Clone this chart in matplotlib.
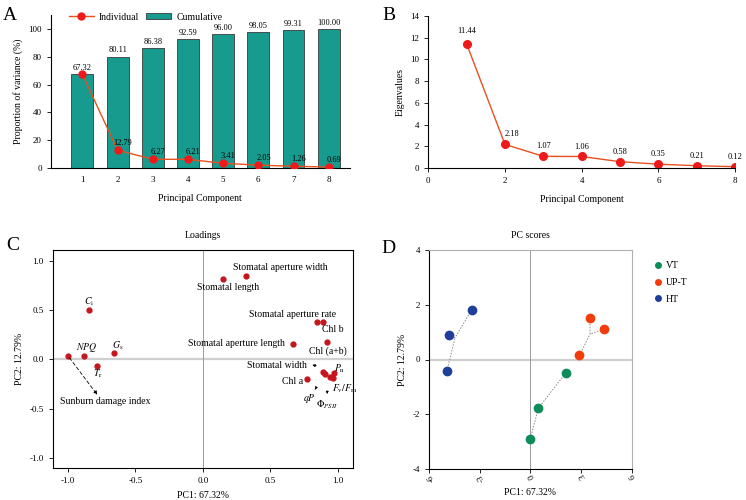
import matplotlib
matplotlib.use("Agg")
import matplotlib.pyplot as plt
from matplotlib.lines import Line2D
from matplotlib.patches import Patch

plt.rcParams['font.family'] = ['Liberation Serif', 'DejaVu Serif']
plt.rcParams['mathtext.fontset'] = 'stix'
plt.rcParams['axes.unicode_minus'] = False

# data
pcs = [1, 2, 3, 4, 5, 6, 7, 8]
individual = [67.32, 12.79, 6.27, 6.21, 3.41, 2.05, 1.26, 0.69]
cumulative = [67.32, 80.11, 86.38, 92.59, 96.00, 98.05, 99.31, 100.00]
eigenvalues = [11.44, 2.18, 1.07, 1.06, 0.58, 0.35, 0.21, 0.12]

# loadings (PC1, PC2) and where the label sits
load_names = ["Stomatal aperture width", "Stomatal length", r"$C_{\rm i}$", r"$NPQ$",
              "Sunburn damage index", r"$G_{\rm s}$", r"$T_{\rm r}$",
              "Stomatal aperture rate", "Chl b", "Chl (a+b)", "Stomatal aperture length",
              "Chl a", "Stomatal width", r"$qP$", r"$P_{\rm n}$", r"$\Phi_{PSII}$",
              r"$F_{\rm v}/F_{\rm m}$"]
load_pc1 = [0.316, 0.148, -0.84, -0.877, -1.0, -0.66, -0.783,
            0.844, 0.889, 0.921, 0.669, 0.770, 0.891, 0.906, 0.968, 0.941, 0.961]
load_pc2 = [0.848, 0.821, 0.50, 0.04, 0.04, 0.064, -0.064,
            0.384, 0.381, 0.181, 0.160, -0.198, -0.127, -0.151, -0.141, -0.174, -0.191]
lab_x = [0.57, 0.185, -0.84, -0.86, -0.72, -0.63, -0.78,
         0.667, 0.96, 0.926, 0.25, 0.66, 0.55, 0.79, 1.01, 0.92, 1.05]
lab_y = [0.93, 0.726, 0.59, 0.12, -0.43, 0.14, -0.14,
         0.46, 0.305, 0.086, 0.167, -0.22, -0.06, -0.40, -0.09, -0.46, -0.30]

# PC scores
groups = ["VT", "UP-T", "HT"]
colors = ["#0e8c5a", "#f23c0c", "#1f3f9a"]
score_x = [[0.0, 0.47, 2.09], [2.9, 3.52, 4.35], [-4.94, -4.82, -3.48]]
score_y = [[-2.89, -1.78, -0.49], [0.15, 1.51, 1.10], [-0.43, 0.91, 1.81]]
# junction of the dotted links in each group
junc_x = [0.47, 3.53, -4.46]
junc_y = [-1.78, 0.93, 0.79]

fig = plt.figure(figsize=(7.46, 5), dpi=100)
fs = 7
tfs = 6.5

# ---- A
axA = fig.add_axes([0.068, 0.664, 0.401, 0.306])
axA.bar(pcs, cumulative, width=0.62, color="#169b8e", edgecolor="#3a3a3a", linewidth=0.6, zorder=2)
axA.plot(pcs, individual, color="#e8501e", lw=1, marker="o", ms=5,
         mfc="#ee1a1a", mec="#ee1a1a", zorder=3)
for x, v in zip(pcs, cumulative):
    axA.text(x, v + 1.5, "%.2f" % v, ha="center", va="bottom", fontsize=6)
for x, v in zip(pcs[1:], individual[1:]):
    axA.text(x + 0.15, v + 2.5, "%.2f" % v, ha="center", va="bottom", fontsize=6)
axA.set_xlim(0.1, 8.6)
axA.set_ylim(0, 110)
axA.set_yticks([0, 20, 40, 60, 80, 100])
axA.set_xticks(pcs)
axA.tick_params(axis="x", length=0, labelsize=tfs, pad=6)
axA.tick_params(axis="y", length=3, width=0.6, labelsize=tfs)
for s in ["top", "right"]:
    axA.spines[s].set_visible(False)
axA.set_xlabel("Principal Component", fontsize=fs, labelpad=7)
axA.set_ylabel("Proportion of variance (%)", fontsize=fs)
hA = [Line2D([], [], color="#e8501e", marker="o", ms=5, mfc="#ee1a1a", mec="#ee1a1a", lw=1),
      Patch(facecolor="#169b8e", edgecolor="#3a3a3a", linewidth=0.6)]
fig.legend(hA, ["Individual", "Cumulative"], loc="center", bbox_to_anchor=(0.195, 0.966),
           ncol=2, frameon=False, fontsize=fs, handlelength=2.6, handleheight=0.6,
           columnspacing=0.7, handletextpad=0.5)

# ---- B
axB = fig.add_axes([0.574, 0.664, 0.4115, 0.304])
axB.plot(pcs, eigenvalues, color="#e8501e", lw=1, marker="o", ms=5.5,
         mfc="#ee1a1a", mec="#ee1a1a")
for x, v in zip(pcs, eigenvalues):
    dx = 0.18 if x == 2 else 0.0
    dy = 0.8 if x == 1 else 0.55
    axB.text(x + dx, v + dy, "%.2f" % v, ha="center", va="bottom", fontsize=6)
axB.set_xlim(0, 8)
axB.set_ylim(0, 14)
axB.set_xticks([0, 2, 4, 6, 8])
axB.set_yticks(range(0, 15, 2))
axB.tick_params(labelsize=tfs, length=3, width=0.6)
for s in ["top", "right"]:
    axB.spines[s].set_visible(False)
axB.set_xlabel("Principal Component", fontsize=fs, labelpad=7)
axB.set_ylabel("Eigenvalues", fontsize=fs)

# ---- C
axC = fig.add_axes([0.071, 0.064, 0.402, 0.436])
axC.axhline(0, color="#cfcfcf", lw=1.6, zorder=0)
axC.axvline(0, color="#9a9a9a", lw=0.7, zorder=0)
axC.plot(load_pc1, load_pc2, "o", color="#c4161c", ms=3.5, zorder=3)
for name, tx, ty in zip(load_names, lab_x, lab_y):
    axC.text(tx, ty, name, ha="center", va="center", fontsize=fs)
axC.annotate("", xy=(-0.77, -0.38), xytext=(-1.0, 0.04),
             arrowprops=dict(arrowstyle="-|>", ls=(0, (4, 3)), lw=0.6, color="black",
                             mutation_scale=5))
for tail, head in [((0.86, -0.07), (0.79, -0.05)), ((0.84, -0.28), (0.82, -0.33)),
                   ((0.92, -0.30), (0.92, -0.35))]:
    axC.annotate("", xy=head, xytext=tail,
                 arrowprops=dict(arrowstyle="-|>", lw=0.5, color="black", mutation_scale=4))
axC.set_xlim(-1.11, 1.11)
axC.set_ylim(-1.10, 1.11)
axC.set_xticks([-1.0, -0.5, 0.0, 0.5, 1.0])
axC.set_yticks([-1.0, -0.5, 0.0, 0.5, 1.0])
axC.tick_params(labelsize=tfs, length=3, width=0.6)
axC.set_xlabel("PC1: 67.32%", fontsize=fs)
axC.set_ylabel("PC2: 12.79%", fontsize=fs)
axC.set_title("Loadings", fontsize=fs, pad=9)

# ---- D
axD = fig.add_axes([0.575, 0.062, 0.272, 0.438])
axD.axhline(0, color="#cfcfcf", lw=1.6, zorder=0)
axD.axvline(0, color="#9a9a9a", lw=0.7, zorder=0)
for g, c, xs, ys, jx, jy in zip(groups, colors, score_x, score_y, junc_x, junc_y):
    for x, y in zip(xs, ys):
        axD.plot([x, jx], [y, jy], ls=(0, (1.5, 1.5)), color="#8a8a8a", lw=0.7, zorder=1)
    axD.plot(xs, ys, "o", color=c, ms=6, zorder=3, label=g)
axD.set_xlim(-6, 6)
axD.set_ylim(-4, 4)
axD.set_xticks([-6, -3, 0, 3, 6])
axD.set_yticks([-4, -2, 0, 2, 4])
axD.tick_params(labelsize=tfs, length=3, width=0.6)
axD.tick_params(axis="x", pad=1)
for lab in axD.get_xticklabels():
    lab.set_rotation(120)
    lab.set_rotation_mode("anchor")
    lab.set_ha("right")
    lab.set_va("center")
for s in ["top", "right"]:
    axD.spines[s].set_color("#b0b0b0")
axD.set_xlabel("PC1: 67.32%", fontsize=fs)
axD.xaxis.set_label_coords(0.5, -0.085)
axD.set_ylabel("PC2: 12.79%", fontsize=fs)
axD.set_title("PC scores", fontsize=fs, pad=9)
hD = [Line2D([], [], ls="", marker="o", ms=4, color=c) for c in colors]
fig.legend(hD, groups, loc="upper left", bbox_to_anchor=(0.865, 0.495), frameon=False,
           fontsize=fs, handlelength=0.8, handletextpad=0.4, labelspacing=0.8)

# panel letters
for lx, ly, t in [(0.004, 0.985, "A"), (0.512, 0.985, "B"), (0.008, 0.525, "C"), (0.511, 0.52, "D")]:
    fig.text(lx, ly, t, fontsize=14, ha="left", va="top")

fig.savefig("out.png", dpi=100)
